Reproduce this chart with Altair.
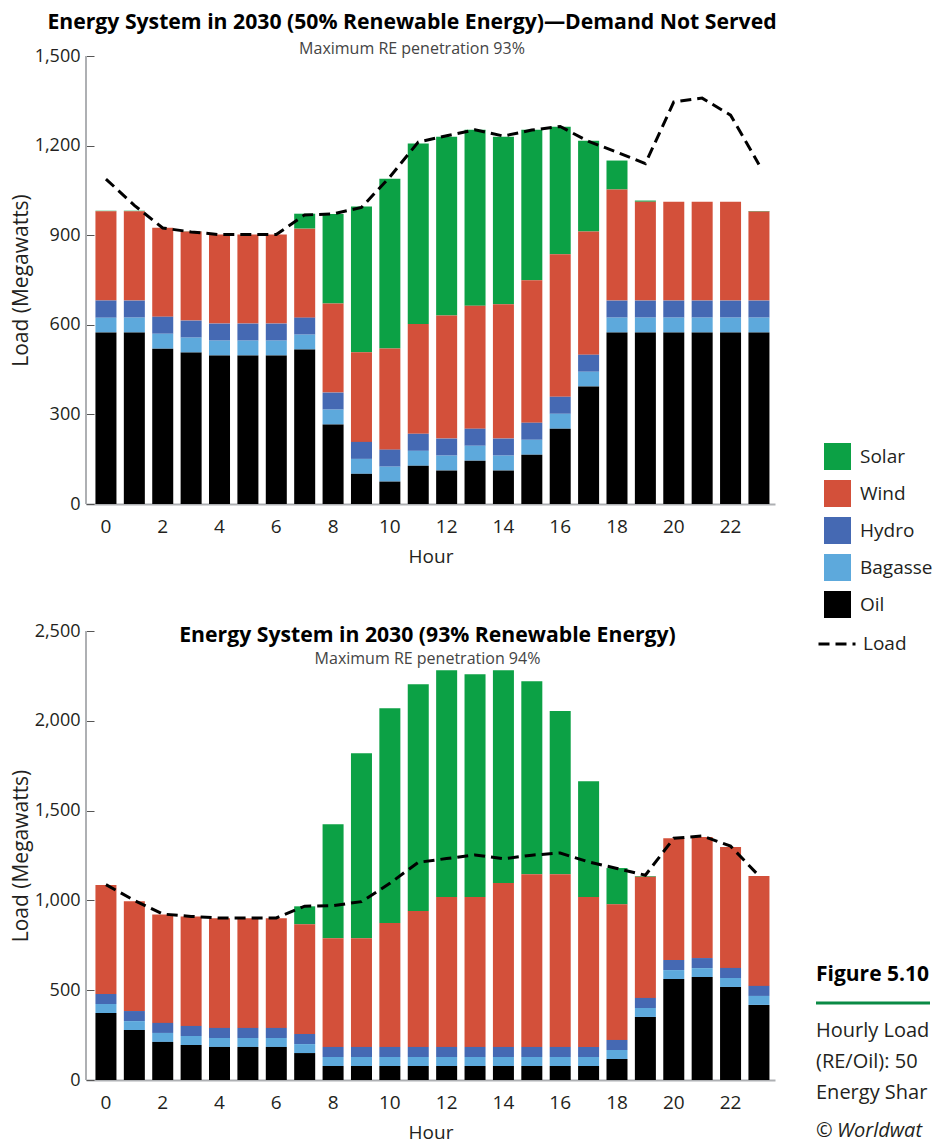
import altair as alt
import pandas as pd

FONT = "Open Sans"
TEXT = "#231f20"
AXIS_GREY = "#aeb0b3"

hours = list(range(24))
x_tick_labels = [0, 2, 4, 6, 8, 10, 12, 14, 16, 18, 20, 22]
sources = ["Solar", "Wind", "Hydro", "Bagasse", "Oil"]
source_colors = ["#0ca145", "#d3503a", "#4569b3", "#5da9dc", "#000000"]

# Hourly load (MW), same in both scenarios
load_mw = [1088, 1000, 924, 911, 902, 902, 902, 968, 971, 993, 1095, 1212,
           1233, 1253, 1232, 1252, 1264, 1214, 1178, 1140, 1346, 1359, 1302, 1137]

# Scenario 1: 50% renewable energy (demand not served)
oil_50 = [574, 574, 520, 507, 497, 497, 497, 517, 266, 101, 75, 128,
          112, 145, 112, 165, 252, 393, 574, 574, 574, 574, 574, 574]
bagasse_50 = [50, 50, 50, 50, 50, 50, 50, 50, 50, 50, 50, 50,
              50, 50, 50, 50, 50, 50, 50, 50, 50, 50, 50, 50]
hydro_50 = [57, 57, 57, 57, 57, 57, 57, 57, 57, 57, 57, 57,
            57, 57, 57, 57, 57, 57, 57, 57, 57, 57, 57, 57]
wind_50 = [299, 299, 298, 298, 298, 298, 298, 298, 298, 300, 339, 368,
           412, 412, 450, 477, 477, 412, 372, 331, 331, 331, 331, 298]
solar_50 = [2, 2, 0, 1, 0, 0, 0, 50, 300, 488, 568, 604,
            599, 589, 561, 504, 427, 304, 97, 4, 0, 0, 0, 2]

# Scenario 2: 93% renewable energy
oil_93 = [373, 278, 212, 195, 184, 184, 184, 150, 78, 78, 78, 78,
          78, 78, 78, 78, 78, 78, 117, 351, 562, 573, 518, 418]
bagasse_93 = [50, 50, 50, 50, 50, 50, 50, 50, 50, 50, 50, 50,
              50, 50, 50, 50, 50, 50, 50, 50, 50, 50, 50, 50]
hydro_93 = [56, 56, 56, 56, 56, 56, 56, 56, 56, 56, 56, 56,
            56, 56, 56, 56, 56, 56, 56, 56, 56, 56, 56, 56]
wind_93 = [607, 611, 604, 610, 610, 610, 610, 611, 605, 605, 690, 757,
           835, 835, 913, 961, 961, 835, 755, 675, 678, 674, 673, 612]
solar_93 = [0, 0, 0, 0, 0, 0, 0, 100, 635, 1030, 1196, 1262,
            1262, 1240, 1184, 1075, 910, 644, 202, 4, 0, 0, 0, 0]

y_ticks_50 = [0, 300, 600, 900, 1200, 1500]
y_ticks_93 = [0, 500, 1000, 1500, 2000, 2500]

caption_lines = ["Hourly Load", "(RE/Oil): 50%", "Energy Share"]


def long_table(oil, bagasse, hydro, wind, solar):
    series = {"Solar": solar, "Wind": wind, "Hydro": hydro, "Bagasse": bagasse, "Oil": oil}
    rows = []
    for name, vals in series.items():
        rank = len(sources) - 1 - sources.index(name)
        for h, v in zip(hours, vals):
            rows.append({"hour": h, "source": name, "value": v, "rank": rank})
    return pd.DataFrame(rows)


load_df = pd.DataFrame({"hour": hours, "load": load_mw, "series": ["Load"] * len(hours)})
one = pd.DataFrame({"k": [0]})

W = 689
ELL = "\u200b"


def panel(df, ymax, yticks, title, subtitle, dx, offset, sub_pad, H, extra=None):
    xenc = alt.X(
        "hour:O",
        scale=alt.Scale(paddingInner=0.26, paddingOuter=0.264, align=0.63),
        axis=alt.Axis(values=x_tick_labels, labelAngle=0, ticks=False, domainColor=AXIS_GREY,
                      domainWidth=2, labelFontSize=19, labelPadding=13, labelColor=TEXT,
                      title="Hour", titleFontSize=19, titleFontWeight="normal", titleColor=TEXT,
                      titlePadding=11),
    )
    yscale = alt.Scale(domain=[0, ymax], nice=False)
    yaxis = alt.Axis(values=yticks, format=",d", offset=-8, domain=False, tickSize=8,
                     tickColor="#555555", tickWidth=1, labelFontSize=18, labelPadding=6,
                     labelColor=TEXT, grid=False, title="Load (Megawatts)", titleFontSize=21,
                     titleFontWeight="normal", titleColor=TEXT, titlePadding=3)
    bars = alt.Chart(df).mark_bar().encode(
        x=xenc,
        y=alt.Y("value:Q", stack="zero", scale=yscale, axis=yaxis),
        color=alt.Color(
            "source:N",
            scale=alt.Scale(domain=sources, range=source_colors),
            legend=alt.Legend(orient="none", legendX=738, legendY=387, title=None,
                              direction="vertical", symbolType="square", symbolSize=729,
                              symbolStrokeWidth=0, symbolOpacity=1, labelFontSize=19,
                              labelColor=TEXT, labelOffset=9, rowPadding=10, labelLimit=76),
        ),
        order=alt.Order("rank:Q", sort="ascending"),
    )
    line = alt.Chart(load_df).mark_line(color="black", strokeWidth=3).encode(
        x=alt.X("hour:O"),
        y=alt.Y("load:Q"),
        strokeDash=alt.StrokeDash(
            "series:N",
            scale=alt.Scale(domain=["Load"], range=[[11, 6]]),
            legend=alt.Legend(orient="none", legendX=731, legendY=568, title=None,
                              symbolType="stroke", symbolSize=1369, symbolStrokeWidth=3,
                              symbolStrokeColor="black", labelFontSize=19, labelColor=TEXT,
                              labelOffset=6),
        ),
    )
    yline = alt.Chart(one).mark_rule(color=AXIS_GREY, strokeWidth=2).encode(
        x=alt.value(0), y=alt.value(0), y2=alt.value(H)
    )
    layers = [bars, line, yline]
    if extra:
        layers += extra
    return alt.layer(*layers).properties(
        width=W, height=H,
        title=alt.TitleParams(text=title, subtitle=subtitle, font=FONT, fontSize=21.2,
                              fontWeight="bold", color="#000", subtitleFont=FONT,
                              subtitleFontSize=16, subtitleColor="#444", subtitlePadding=sub_pad,
                              anchor="middle", dx=dx, offset=offset),
    )


cap_x = 730
cap_lim = 114
caption = [
    alt.Chart(one).mark_text(text="Figure 5.10", font=FONT, fontSize=21, fontWeight="bold",
                             color="#000", align="left", baseline="middle", limit=cap_lim,
                             ellipsis=ELL).encode(x=alt.value(cap_x), y=alt.value(344)),
    alt.Chart(one).mark_rule(color="#0a8a45", strokeWidth=3).encode(
        x=alt.value(cap_x), x2=alt.value(cap_x + cap_lim), y=alt.value(372)),
]
for i, t in enumerate(caption_lines):
    caption.append(
        alt.Chart(one).mark_text(text=t, font=FONT, fontSize=20, color=TEXT, align="left",
                                 baseline="middle", limit=cap_lim, ellipsis=ELL).encode(
            x=alt.value(cap_x), y=alt.value(400 + 31 * i))
    )
caption.append(
    alt.Chart(one).mark_text(text="©", font=FONT, fontSize=20, color=TEXT, align="left",
                             baseline="middle").encode(x=alt.value(cap_x), y=alt.value(500)))
caption.append(
    alt.Chart(one).mark_text(text="Worldwatch", font=FONT, fontSize=20, fontStyle="italic",
                             color=TEXT, align="left", baseline="middle", limit=cap_lim - 21,
                             ellipsis=ELL).encode(x=alt.value(cap_x + 21), y=alt.value(500)))

top = panel(long_table(oil_50, bagasse_50, hydro_50, wind_50, solar_50), 1500, y_ticks_50,
            "Energy System in 2030 (50% Renewable Energy)\u2014Demand Not Served",
            "Maximum RE penetration 93%", -18.5, -10, 8, 448)
bottom = panel(long_table(oil_93, bagasse_93, hydro_93, wind_93, solar_93), 2500, y_ticks_93,
               "Energy System in 2030 (93% Renewable Energy)",
               "Maximum RE penetration 94%", -3, -45, 5, 449, extra=caption)

chart = alt.vconcat(top, bottom, spacing=56).resolve_scale(
    color="shared", strokeDash="shared"
).properties(
    padding={"left": 2, "top": 3, "right": 0, "bottom": 0}
).configure(font=FONT).configure_view(stroke=None)

chart.save("out.html", embed_options={"renderer": "svg", "actions": False})
